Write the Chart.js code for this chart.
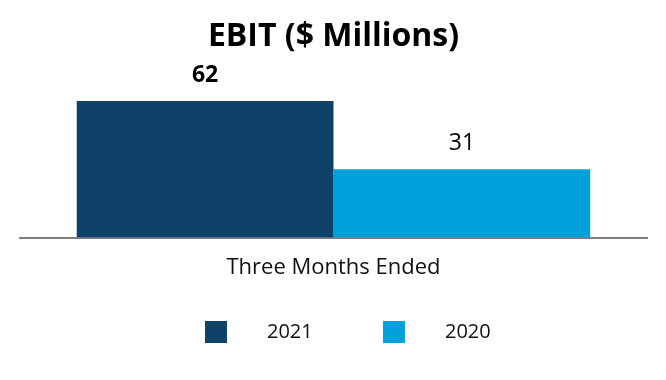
<!DOCTYPE html>
<html>
<head>
<meta charset="utf-8">
<script src="https://cdn.jsdelivr.net/npm/chart.js@4"></script>
<style>
html,body{margin:0;padding:0;background:#fff;}
#wrap{width:666px;height:380px;}
</style>
</head>
<body>
<div id="wrap"><canvas id="c" width="666" height="380"></canvas></div>
<script>
const categories = ["Three Months Ended"];
const seriesNames = ["2021", "2020"];
const values2021 = [62];
const values2020 = [31];
const colors = ["#0F4269", "#00A1DB"];
const labelBold = [true, false];

const FONT = "'Open Sans', 'Noto Sans', sans-serif";

const valueLabels = {
  id: 'valueLabels',
  afterDatasetsDraw(chart) {
    const ctx = chart.ctx;
    ctx.save();
    chart.data.datasets.forEach((ds, i) => {
      const meta = chart.getDatasetMeta(i);
      meta.data.forEach((bar, j) => {
        ctx.font = (labelBold[i] ? 'bold ' : '') + '23px ' + FONT;
        ctx.fillStyle = '#000';
        ctx.textAlign = 'center';
        ctx.textBaseline = 'middle';
        ctx.fillText(String(ds.data[j]), bar.x, bar.y - 26);
      });
    });
    ctx.restore();
  }
};

const customLegend = {
  id: 'customLegend',
  afterDraw(chart) {
    const ctx = chart.ctx;
    ctx.save();
    const y = 332;
    const items = [{box: 205, text: 267}, {box: 383, text: 445}];
    chart.data.datasets.forEach((ds, i) => {
      ctx.fillStyle = ds.backgroundColor;
      ctx.fillRect(items[i].box, y - 11, 22, 22);
      ctx.fillStyle = '#111';
      ctx.font = '20px ' + FONT;
      ctx.textAlign = 'left';
      ctx.textBaseline = 'middle';
      ctx.fillText(ds.label, items[i].text, y);
    });
    ctx.restore();
  }
};

new Chart(document.getElementById('c'), {
  type: 'bar',
  data: {
    labels: categories,
    datasets: [
      {label: seriesNames[0], data: values2021, backgroundColor: colors[0]},
      {label: seriesNames[1], data: values2020, backgroundColor: colors[1]}
    ]
  },
  options: {
    responsive: false,
    animation: false,
    devicePixelRatio: 1,
    layout: {padding: {left: 20, right: 19, top: 0, bottom: 82}},
    datasets: {bar: {categoryPercentage: 0.819, barPercentage: 1.0}},
    plugins: {
      legend: {display: false},
      tooltip: {enabled: false},
      title: {
        display: true,
        text: 'EBIT ($ Millions)',
        font: {family: FONT, size: 32, weight: 'bold'},
        color: '#000',
        padding: {top: 18, bottom: 5}
      }
    },
    scales: {
      x: {
        grid: {display: false, drawTicks: false},
        border: {display: true, color: '#7F7F7F', width: 2},
        ticks: {font: {family: FONT, size: 22}, color: '#111', padding: 17}
      },
      y: {
        display: false,
        min: 0,
        max: 80
      }
    }
  },
  plugins: [valueLabels, customLegend]
});
</script>
</body>
</html>
